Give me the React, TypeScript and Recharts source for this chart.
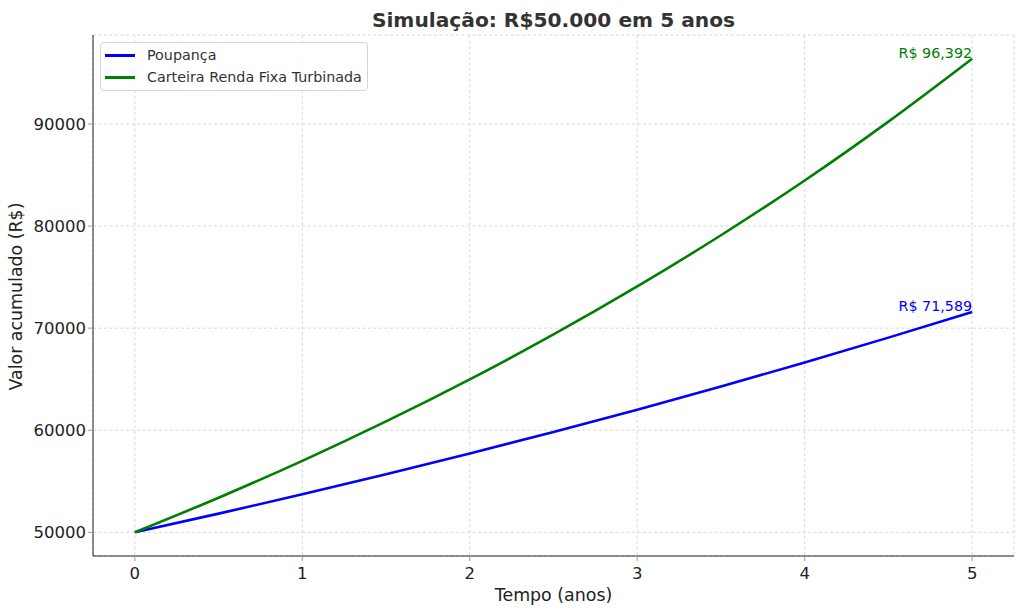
import React from 'react';
import { LineChart, Line, XAxis, YAxis, CartesianGrid, ReferenceDot } from 'recharts';

// years (half-year readings)
const anos = [0, 0.5, 1, 1.5, 2, 2.5, 3, 3.5, 4, 4.5, 5];
const poupanca = [50000, 51830, 53720, 55690, 57720, 59830, 62010, 64280, 66630, 69070, 71589];
const turbinada = [50000, 53390, 57000, 60860, 64980, 69380, 74080, 79100, 84460, 90230, 96392];
const xTicks = [0, 1, 2, 3, 4, 5];
const yTicks = [50000, 60000, 70000, 80000, 90000];

const seriesInfo = [
  { key: 'poupanca', name: 'Poupança', color: '#0000ff', final: 71589 },
  { key: 'turbinada', name: 'Carteira Renda Fixa Turbinada', color: '#008000', final: 96392 },
];

const data = anos.map((t, i) => ({ t, poupanca: poupanca[i], turbinada: turbinada[i] }));

const FONT = '"DejaVu Sans", sans-serif';

const LegendBox = () => (
  <div style={{
    position: 'absolute', top: 42, left: 100,
    border: '1px solid #d6d6d6', borderRadius: 4, background: 'rgba(255,255,255,0.8)',
    padding: '1px 5px 2px 4px', fontFamily: FONT, fontSize: 14.3, color: '#333', lineHeight: '22px',
  }}>
    {seriesInfo.map(s => (
      <div key={s.key} style={{ display: 'flex', alignItems: 'center' }}>
        <span style={{ display: 'inline-block', width: 30, height: 3, background: s.color, marginRight: 12 }} />
        <span>{s.name}</span>
      </div>
    ))}
  </div>
);

const EndLabel = (color: string, text: string) => (props: any) => {
  const { viewBox } = props;
  const cx = viewBox.x + (viewBox.width || 0) / 2;
  const cy = viewBox.y + (viewBox.height || 0) / 2;
  return (
    <text x={cx} y={cy - 1} textAnchor="end" fill={color} fontFamily={FONT} fontSize={14.3}>{text}</text>
  );
};

export default function App() {
  return (
    <div style={{ position: 'relative', width: 1024, height: 611, background: '#fff' }}>
      <style>{'body{margin:0}'}</style>
      <div style={{
        position: 'absolute', top: 8, left: 93, width: 921, textAlign: 'center',
        fontFamily: FONT, fontWeight: 'bold', fontSize: 20.2, color: '#333',
      }}>Simulação: R$50.000 em 5 anos</div>
      <LineChart width={1024} height={611} data={data} margin={{ top: 35, right: 10, bottom: 0, left: 0 }}>
        <CartesianGrid stroke="#d8d8d8" strokeDasharray="3 2.5" />
        <XAxis
          dataKey="t" type="number" domain={[-0.25, 5.25]} ticks={xTicks}
          height={55} stroke="#222" tickSize={5}
          tickLine={{ stroke: '#999' }}
          tick={{ fill: '#222', fontFamily: FONT, fontSize: 16.5, dy: 4 }}
          label={{ value: 'Tempo (anos)', position: 'insideBottom', offset: 10, fill: '#222', fontFamily: FONT, fontSize: 17.4 }}
        />
        <YAxis
          type="number" domain={[47680, 98712]} ticks={yTicks} allowDataOverflow
          width={93} stroke="#222" tickSize={5}
          tickLine={{ stroke: '#999' }}
          tick={{ fill: '#222', fontFamily: FONT, fontSize: 16.5 }}
          label={{ value: 'Valor acumulado (R$)', angle: -90, position: 'insideLeft', offset: 16, dy: 95, fill: '#222', fontFamily: FONT, fontSize: 17.4 }}
        />
        {seriesInfo.map(s => (
          <Line key={s.key} dataKey={s.key} name={s.name} type="monotone" stroke={s.color}
            strokeWidth={2.6} dot={false} isAnimationActive={false} />
        ))}
        {seriesInfo.map(s => (
          <ReferenceDot key={'lbl-' + s.key} x={5} y={s.final} r={0} fill="none" stroke="none"
            label={EndLabel(s.color, 'R$ ' + s.final.toLocaleString('en-US'))} />
        ))}
      </LineChart>
      <LegendBox />
    </div>
  );
}
